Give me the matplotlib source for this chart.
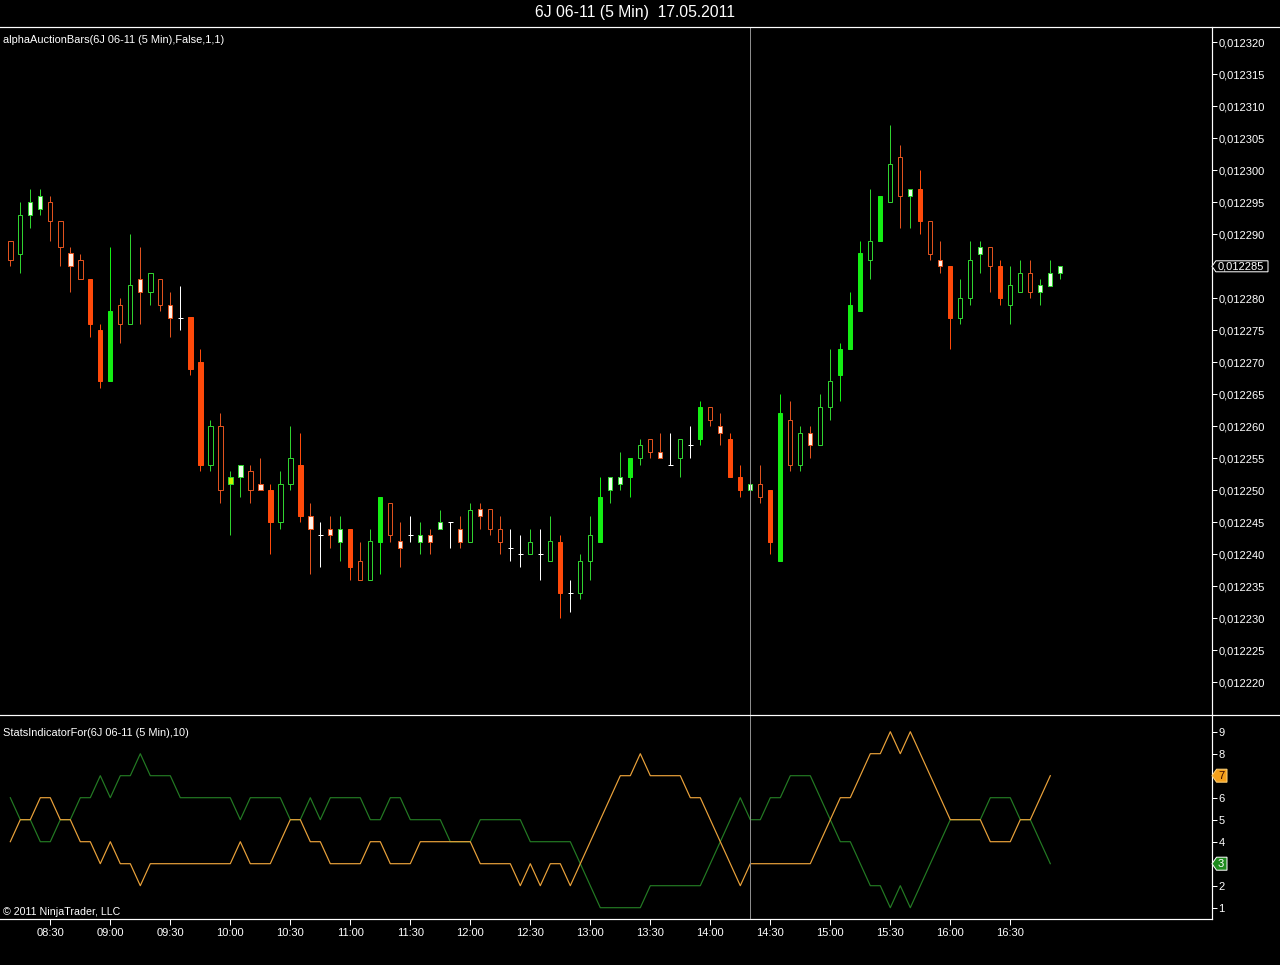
import numpy as np
import matplotlib
matplotlib.use("Agg")
import matplotlib.pyplot as plt
import matplotlib.transforms as mtransforms
from matplotlib.patches import Rectangle, Polygon
from matplotlib.lines import Line2D

plt.rcParams["font.family"] = ["Liberation Sans", "DejaVu Sans"]

# 6J 06-11, 5 min bars, 17.05.2011 (first bar 08:10, last 16:55)
opens = [0.012289, 0.012287, 0.012293, 0.012294, 0.012295, 0.012292, 0.012287, 0.012286, 0.012283, 0.012275,
         0.012267, 0.012279, 0.012276, 0.012283, 0.012281, 0.012283, 0.012279, 0.012277, 0.012277, 0.012270,
         0.012254, 0.012260, 0.012251, 0.012252, 0.012253, 0.012251, 0.012250, 0.012245, 0.012251, 0.012254,
         0.012246, 0.012243, 0.012244, 0.012242, 0.012244, 0.012239, 0.012236, 0.012242, 0.012248, 0.012242,
         0.012243, 0.012242, 0.012243, 0.012244, 0.012245, 0.012244, 0.012242, 0.012247, 0.012247, 0.012244,
         0.012241, 0.012240, 0.012240, 0.012240, 0.012239, 0.012242, 0.012234, 0.012234, 0.012239, 0.012242,
         0.012250, 0.012251, 0.012252, 0.012255, 0.012258, 0.012256, 0.012254, 0.012255, 0.012257, 0.012258,
         0.012263, 0.012260, 0.012258, 0.012252, 0.012250, 0.012251, 0.012250, 0.012239, 0.012261, 0.012254,
         0.012259, 0.012257, 0.012263, 0.012268, 0.012272, 0.012278, 0.012286, 0.012289, 0.012295, 0.012302,
         0.012296, 0.012297, 0.012292, 0.012286, 0.012285, 0.012277, 0.012280, 0.012287, 0.012288, 0.012285,
         0.012279, 0.012281, 0.012284, 0.012281, 0.012282, 0.012284]
highs = [0.012289, 0.012295, 0.012297, 0.012297, 0.012296, 0.012292, 0.012288, 0.012287, 0.012283, 0.012276,
         0.012288, 0.012280, 0.012290, 0.012288, 0.012284, 0.012283, 0.012281, 0.012282, 0.012277, 0.012272,
         0.012261, 0.012262, 0.012253, 0.012254, 0.012254, 0.012255, 0.012251, 0.012253, 0.012260, 0.012259,
         0.012248, 0.012245, 0.012246, 0.012246, 0.012244, 0.012242, 0.012244, 0.012249, 0.012248, 0.012245,
         0.012246, 0.012245, 0.012244, 0.012247, 0.012245, 0.012246, 0.012248, 0.012248, 0.012247, 0.012246,
         0.012244, 0.012243, 0.012244, 0.012244, 0.012246, 0.012243, 0.012236, 0.012240, 0.012246, 0.012252,
         0.012252, 0.012256, 0.012255, 0.012258, 0.012258, 0.012259, 0.012259, 0.012258, 0.012260, 0.012264,
         0.012263, 0.012262, 0.012259, 0.012254, 0.012253, 0.012254, 0.012250, 0.012265, 0.012264, 0.012260,
         0.012260, 0.012265, 0.012272, 0.012273, 0.012281, 0.012289, 0.012297, 0.012296, 0.012307, 0.012304,
         0.012297, 0.012300, 0.012292, 0.012289, 0.012285, 0.012283, 0.012289, 0.012289, 0.012288, 0.012286,
         0.012285, 0.012286, 0.012286, 0.012283, 0.012286, 0.012285]
lows = [0.012285, 0.012284, 0.012291, 0.012293, 0.012289, 0.012285, 0.012281, 0.012283, 0.012274, 0.012266,
        0.012267, 0.012273, 0.012276, 0.012276, 0.012279, 0.012278, 0.012274, 0.012275, 0.012268, 0.012253,
        0.012253, 0.012248, 0.012243, 0.012249, 0.012248, 0.012250, 0.012240, 0.012244, 0.012250, 0.012245,
        0.012237, 0.012238, 0.012241, 0.012239, 0.012236, 0.012236, 0.012236, 0.012237, 0.012242, 0.012238,
        0.012242, 0.012240, 0.012240, 0.012244, 0.012241, 0.012241, 0.012242, 0.012244, 0.012243, 0.012240,
        0.012239, 0.012238, 0.012240, 0.012236, 0.012239, 0.012230, 0.012231, 0.012233, 0.012236, 0.012242,
        0.012248, 0.012250, 0.012249, 0.012254, 0.012255, 0.012255, 0.012254, 0.012252, 0.012255, 0.012257,
        0.012260, 0.012257, 0.012252, 0.012249, 0.012248, 0.012248, 0.012240, 0.012239, 0.012253, 0.012253,
        0.012255, 0.012257, 0.012261, 0.012264, 0.012272, 0.012278, 0.012283, 0.012289, 0.012295, 0.012291,
        0.012291, 0.012290, 0.012286, 0.012284, 0.012272, 0.012276, 0.012279, 0.012284, 0.012281, 0.012279,
        0.012276, 0.012281, 0.012280, 0.012279, 0.012282, 0.012283]
closes = [0.012286, 0.012293, 0.012295, 0.012296, 0.012292, 0.012288, 0.012285, 0.012283, 0.012276, 0.012267,
          0.012278, 0.012276, 0.012282, 0.012281, 0.012284, 0.012279, 0.012277, 0.012277, 0.012269, 0.012254,
          0.012260, 0.012250, 0.012252, 0.012254, 0.012250, 0.012250, 0.012245, 0.012251, 0.012255, 0.012246,
          0.012244, 0.012243, 0.012243, 0.012244, 0.012238, 0.012236, 0.012242, 0.012249, 0.012243, 0.012241,
          0.012243, 0.012243, 0.012242, 0.012245, 0.012245, 0.012242, 0.012247, 0.012246, 0.012244, 0.012242,
          0.012241, 0.012240, 0.012242, 0.012240, 0.012242, 0.012234, 0.012234, 0.012239, 0.012243, 0.012249,
          0.012252, 0.012252, 0.012255, 0.012257, 0.012256, 0.012255, 0.012254, 0.012258, 0.012257, 0.012263,
          0.012261, 0.012259, 0.012252, 0.012250, 0.012251, 0.012249, 0.012242, 0.012262, 0.012254, 0.012259,
          0.012257, 0.012263, 0.012267, 0.012272, 0.012279, 0.012287, 0.012289, 0.012296, 0.012301, 0.012296,
          0.012297, 0.012292, 0.012287, 0.012285, 0.012277, 0.012280, 0.012286, 0.012288, 0.012285, 0.012280,
          0.012282, 0.012284, 0.012281, 0.012282, 0.012284, 0.012285]
# h = hollow, s = solid, l = light filled, d = doji, y = yellow marked
bar_kind = ("hhllhhlhss" "shhlhhldss" "hhylhlshhs" "ldllshhshl" "dllldlhlhh"
            "ddhdhsdhhs" "llshhldhds" "hlsslhsshh" "lhhssshshh" "lshlshhlhs" "hhhlll")
last_price = 0.012285
price_ticks = [0.012220, 0.012225, 0.012230, 0.012235, 0.012240, 0.012245, 0.012250,
               0.012255, 0.012260, 0.012265, 0.012270, 0.012275, 0.012280, 0.012285,
               0.012290, 0.012295, 0.012300, 0.012305, 0.012310, 0.012315, 0.012320]
time_labels = ["08:30", "09:00", "09:30", "10:00", "10:30", "11:00", "11:30", "12:00", "12:30",
               "13:00", "13:30", "14:00", "14:30", "15:00", "15:30", "16:00", "16:30"]
label_bars = [4, 10, 16, 22, 28, 34, 40, 46, 52, 58, 64, 70, 76, 82, 88, 94, 100]
cursor_bar = 74

stats_green = [6, 5, 5, 4, 4, 5, 5, 6, 6, 7,
               6, 7, 7, 8, 7, 7, 7, 6, 6, 6,
               6, 6, 6, 5, 6, 6, 6, 6, 5, 5,
               6, 5, 6, 6, 6, 6, 5, 5, 6, 6,
               5, 5, 5, 5, 4, 4, 4, 5, 5, 5,
               5, 5, 4, 4, 4, 4, 4, 3, 2, 1,
               1, 1, 1, 1, 2, 2, 2, 2, 2, 2,
               3, 4, 5, 6, 5, 5, 6, 6, 7, 7,
               7, 6, 5, 4, 4, 3, 2, 2, 1, 2,
               1, 2, 3, 4, 5, 5, 5, 5, 6, 6,
               6, 5, 5, 4, 3]
stats_orange = [4, 5, 5, 6, 6, 5, 5, 4, 4, 3,
                4, 3, 3, 2, 3, 3, 3, 3, 3, 3,
                3, 3, 3, 4, 3, 3, 3, 4, 5, 5,
                4, 4, 3, 3, 3, 3, 4, 4, 3, 3,
                3, 4, 4, 4, 4, 4, 4, 3, 3, 3,
                3, 2, 3, 2, 3, 3, 2, 3, 4, 5,
                6, 7, 7, 8, 7, 7, 7, 7, 6, 6,
                5, 4, 3, 2, 3, 3, 3, 3, 3, 3,
                3, 4, 5, 6, 6, 7, 8, 8, 9, 8,
                9, 8, 7, 6, 5, 5, 5, 5, 4, 4,
                4, 5, 5, 6, 7]

W, H = 1280, 965
PX = 0.72  # one pixel in points
GREEN_EDGE, GREEN_FILL, GREEN_LIGHT = "#2FD22F", "#14EE14", "#F0FFEC"
RED_EDGE, RED_FILL, RED_LIGHT = "#E0521E", "#FF4A0A", "#FFEFE4"

fig = plt.figure(figsize=(W / 100, H / 100), dpi=100, facecolor="black")


def box(top, bottom, right=1212):
    return [0, 1 - bottom / H, right / W, (bottom - top) / H]


ax = fig.add_axes(box(27, 715))
axs = fig.add_axes(box(715, 919), sharex=ax)
for a in (ax, axs):
    a.set_facecolor("black")
    for side in ("left", "top", "bottom"):
        a.spines[side].set_visible(False)
    a.spines["right"].set_color("white")
    a.spines["right"].set_linewidth(PX * 1.2)
axs.spines["bottom"].set_visible(True)
axs.spines["bottom"].set_color("white")
axs.spines["bottom"].set_linewidth(PX * 1.2)

# candles
for i, kind in enumerate(bar_kind):
    o, h, l, c = opens[i], highs[i], lows[i], closes[i]
    if kind == "d":
        ax.vlines(i, l, h, colors="white", lw=PX, zorder=2)
        ax.hlines(o, i - 0.25, i + 0.25, colors="white", lw=PX, zorder=3)
        continue
    bull = c > o
    edge = GREEN_EDGE if bull else RED_EDGE
    if kind == "s":
        face = GREEN_FILL if bull else RED_FILL
        edge = face
    elif kind == "l":
        face = GREEN_LIGHT if bull else RED_LIGHT
    elif kind == "y":
        face = "#C8F000"
    else:
        face = "black"
    ax.vlines(i, l, h, colors=edge, lw=PX, zorder=2)
    ax.add_patch(Rectangle((i - 0.22, min(o, c)), 0.44, abs(c - o),
                           facecolor=face, edgecolor=edge, lw=PX, zorder=3))

# price axis
slope = (0.012320 - 0.012220) / (682.3 - 42.3)
ax.set_ylim(0.012220 - (715 - 682.3) * slope, 0.012320 + (42.3 - 27) * slope)
ax.set_xlim(-1.03, 120.17)
ax.yaxis.tick_right()
ax.set_yticks(price_ticks)
ax.set_yticklabels(["" if abs(v - last_price) < 1e-9 else f"{v:.6f}".replace(".", ",")
                    for v in price_ticks])
ax.tick_params(axis="y", colors="white", length=5 * PX, width=PX, pad=1, labelsize=8)
ax.tick_params(axis="x", bottom=False, labelbottom=False)
ax.axvline(cursor_bar, color="#8c8c8c", lw=PX, zorder=4)

# stats indicator
x = np.arange(len(stats_green))
axs.plot(x, stats_green, color="#237A23", lw=PX * 1.2, zorder=3)
axs.plot(x, stats_orange, color="#EAA23A", lw=PX * 1.2, zorder=3)
s2 = 8 / (907.7 - 731.7)
axs.set_ylim(1 - (919 - 907.7) * s2, 9 + (731.7 - 715) * s2)
axs.yaxis.tick_right()
stat_ticks = list(range(1, 10))
axs.set_yticks(stat_ticks)
axs.set_yticklabels(["" if v in (stats_green[-1], stats_orange[-1]) else str(v) for v in stat_ticks])
axs.tick_params(axis="y", colors="white", length=5 * PX, width=PX, pad=1, labelsize=8)
axs.set_xticks(label_bars)
axs.set_xticklabels(time_labels)
axs.tick_params(axis="x", colors="white", length=6 * PX, width=PX, pad=2, labelsize=8)
axs.axvline(cursor_bar, color="#8c8c8c", lw=PX, zorder=4)

# frame lines
for yy in (27, 715):
    fig.add_artist(Line2D([0, 1], [1 - yy / H] * 2, transform=fig.transFigure,
                          color="white", lw=PX * 1.2))

# texts
fig.text(635 / W, 1 - 13 / H, "6J 06-11 (5 Min)  17.05.2011", ha="center", va="center",
         color="white", fontsize=11.3)
fig.text(3 / W, 1 - 40 / H, "alphaAuctionBars(6J 06-11 (5 Min),False,1,1)", va="center",
         color="white", fontsize=7.9)
fig.text(3 / W, 1 - 733 / H, "StatsIndicatorFor(6J 06-11 (5 Min),10)", va="center",
         color="white", fontsize=7.9)
fig.text(3 / W, 1 - 912 / H, "\u00a9 2011 NinjaTrader, LLC", va="center",
         color="white", fontsize=7.7)

# value tags on the right axis
ident = mtransforms.IdentityTransform()


def tag(axis, value, text, fc, ec, tc, width, height, centered):
    x0 = axis.transAxes.transform((1, 0))[0]
    y0 = axis.transData.transform((0, value))[1]
    hh = height / 2
    pts = [(x0, y0), (x0 + hh * 0.7, y0 + hh), (x0 + width, y0 + hh),
           (x0 + width, y0 - hh), (x0 + hh * 0.7, y0 - hh)]
    fig.add_artist(Polygon(pts, closed=True, transform=ident, facecolor=fc,
                           edgecolor=ec, lw=PX, zorder=6))
    if centered:
        fig.text(x0 + width * 0.6, y0, text, transform=ident, ha="center", va="center",
                 color=tc, fontsize=8, zorder=7)
    else:
        fig.text(x0 + 6, y0, text, transform=ident, ha="left", va="center",
                 color=tc, fontsize=8, zorder=7)


tag(ax, last_price, f"{last_price:.6f}".replace(".", ","), "black", "white", "white", 56, 11, False)
tag(axs, stats_orange[-1], str(stats_orange[-1]), "#F5A11C", "#FFD27A", "#3A0A00", 15, 13, True)
tag(axs, stats_green[-1], str(stats_green[-1]), "#1E8A1E", "white", "white", 15, 13, True)

fig.savefig("out.png", dpi=100, facecolor="black")
